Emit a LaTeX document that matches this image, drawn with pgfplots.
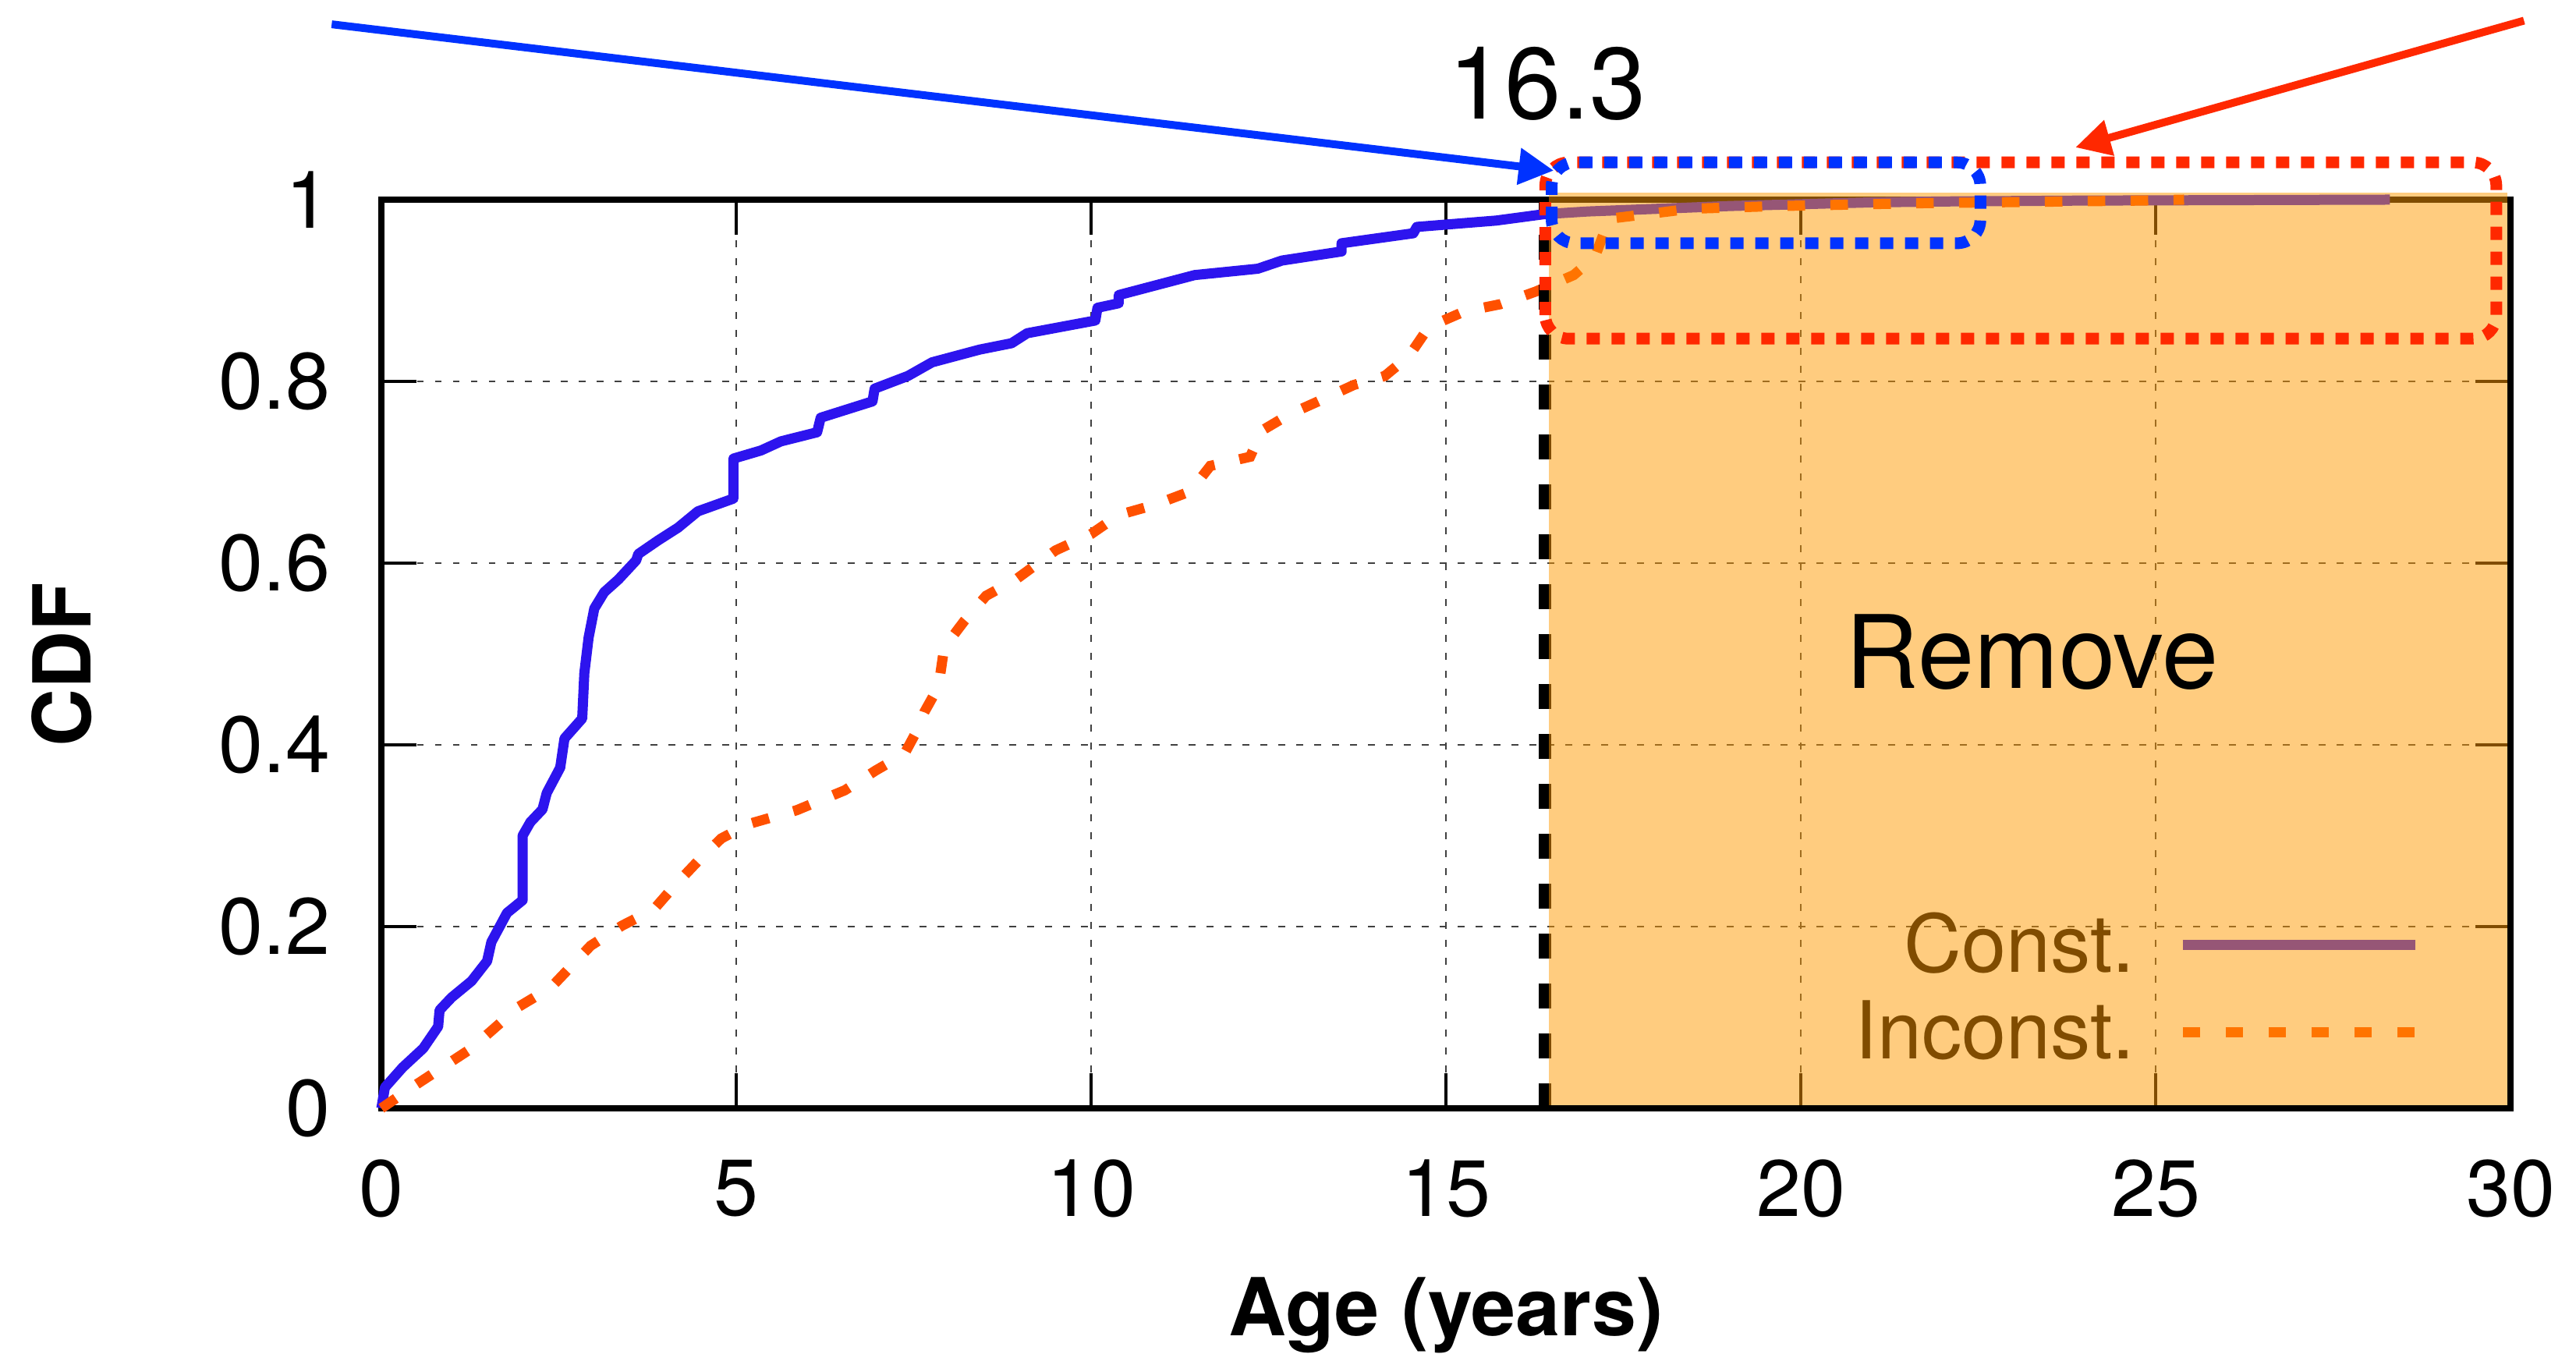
\documentclass[border=0pt]{standalone}
\usepackage{fontspec}
\setmainfont{TeX Gyre Heros}
\usepackage{pgfplots}
\pgfplotsset{compat=1.18}
\usetikzlibrary{arrows.meta}
\definecolor{cblue}{RGB}{45,20,238}
\definecolor{corange}{RGB}{255,80,0}
\definecolor{cfill}{RGB}{255,153,0}
\definecolor{aBlue}{RGB}{0,50,255}
\definecolor{aRed}{RGB}{255,40,0}

\begin{document}
\begin{tikzpicture}
\useasboundingbox (-97.8pt,-63pt) rectangle (562.8pt,284.2pt);
\begin{axis}[
  at={(0pt,0pt)}, anchor=origin,
  scale only axis, width=546pt, height=233pt,
  xmin=0, xmax=30, ymin=0, ymax=1,
  xtick={0,5,10,15,20,25,30},
  ytick={0,0.2,0.4,0.6,0.8,1},
  clip=false,
  axis line style={line width=1.6pt, black},
  tick style={line width=0.7pt, black},
  major tick length=9pt,
  tick align=inside,
  grid=major,
  major grid style={black!75, line width=0.4pt, dash pattern=on 1.7pt off 2.9pt},
  /pgf/number format/assume math mode=true,
  ticklabel style={font=\fontsize{20.5}{24}\selectfont, inner sep=0pt},
  xticklabel style={yshift=-13pt},
  yticklabel style={xshift=-13pt},
  xlabel={Age (years)},
  ylabel={CDF},
  label style={font=\fontsize{20.5}{24}\selectfont\bfseries},
  xlabel style={at={(axis description cs:0.5,-0.2506)}, anchor=base},
  ylabel style={at={(axis description cs:-0.1366,0.488)}, anchor=base},
  legend style={draw=none, fill=none, inner sep=0pt, font=\fontsize{20.5}{24}\selectfont,
    at={(axis description cs:0.958,0.132)}, anchor=east, row sep=5.8pt, column sep=11pt,
    nodes={inner sep=0pt}},
  legend plot pos=right, legend cell align=right,
  legend image code/.code={\draw[#1] (0pt,0pt) -- (59.6pt,0pt);},
]
\addplot[cblue, line width=2.6pt, line join=round] coordinates {
(0,0) (0.05,0.023) (0.3,0.045) (0.59,0.066) (0.80,0.090) (0.82,0.108) (0.99,0.122)
(1.27,0.140) (1.49,0.162) (1.55,0.183) (1.77,0.215) (1.99,0.229) (1.99,0.300)
(2.10,0.315) (2.27,0.329) (2.33,0.347) (2.52,0.375) (2.58,0.407) (2.83,0.429)
(2.86,0.479) (2.92,0.518) (3.0,0.55) (3.14,0.568) (3.34,0.582) (3.59,0.603)
(3.62,0.610) (3.90,0.625) (4.18,0.639) (4.46,0.657) (4.96,0.671) (4.96,0.715)
(5.35,0.724) (5.63,0.734) (6.14,0.744) (6.19,0.760) (6.92,0.778) (6.95,0.792)
(7.42,0.806) (7.76,0.821) (8.43,0.835) (8.88,0.842) (9.1,0.853) (10.06,0.867)
(10.09,0.881) (10.39,0.886) (10.39,0.895) (11.46,0.917) (12.35,0.924) (12.69,0.933)
(13.53,0.943) (13.53,0.952) (14.54,0.963) (14.59,0.970) (15.71,0.977) (16.38,0.984)
(17,0.987) (18,0.990) (19,0.993) (20,0.995) (21,0.997) (22,0.998) (24,0.999) (28.3,1.0)
};
\addlegendentry{Const.}
\addplot[corange, line width=2.6pt, dash pattern=on 4.5pt off 6.5pt] coordinates {
(0,0) (0.43,0.023) (1.27,0.066) (1.94,0.112) (2.39,0.133) (2.95,0.179) (3.39,0.201)
(3.84,0.219) (4.12,0.244) (4.46,0.272) (4.79,0.297) (5.18,0.313) (5.85,0.328)
(6.53,0.350) (6.97,0.372) (7.37,0.390) (7.59,0.422) (7.65,0.436) (7.85,0.464)
(7.93,0.507) (8.21,0.536) (8.52,0.564) (8.94,0.582) (9.50,0.614) (10.0,0.632)
(10.39,0.653) (10.89,0.664) (11.40,0.679) (11.68,0.707) (12.24,0.717) (12.41,0.746)
(12.80,0.764) (13.20,0.778) (13.70,0.796) (14.14,0.806) (14.48,0.828) (14.76,0.860)
(15.26,0.877) (15.77,0.885) (16.27,0.899) (16.8,0.917) (17.1,0.937) (17.3,0.979)
(18.45,0.990) (19.7,0.993) (21.6,0.996) (24.8,0.999) (25.4,1.0)
};
\addlegendentry{Inconst.}
\coordinate (VL0) at (axis cs:16.4,0);
\coordinate (VL1) at (axis cs:16.4,1);
\coordinate (F0) at (axis cs:16.45,0);
\coordinate (F1) at (axis cs:30,1);
\coordinate (RR0) at (axis cs:16.4,0.847);
\coordinate (RR1) at (axis cs:29.8,1.041);
\coordinate (BR0) at (axis cs:16.49,0.952);
\coordinate (BR1) at (axis cs:22.53,1.041);
\coordinate (BA0) at (axis cs:-0.70,1.193);
\coordinate (BA1) at (axis cs:16.52,1.032);
\coordinate (RA0) at (axis cs:30.19,1.197);
\coordinate (RA1) at (axis cs:23.87,1.0575);
\coordinate (TXT) at (axis cs:16.43,1.089);
\coordinate (REM) at (axis cs:23.26,0.462);
\end{axis}
\draw[black, line width=3.2pt, dash pattern=on 6.4pt off 6.4pt] (VL0) -- (VL1);
\fill[cfill, opacity=0.5] ([yshift=0.8pt]F0) rectangle ([xshift=-0.8pt,yshift=1.8pt]F1);
\draw[aRed, line width=3pt, dash pattern=on 3.4pt off 3pt, rounded corners=6pt] (RR0) rectangle (RR1);
\draw[aBlue, line width=3pt, dash pattern=on 3.4pt off 3pt, rounded corners=6pt] (BR0) rectangle (BR1);
\draw[aBlue, line width=2pt, -{Triangle[length=9pt,width=9pt]}] (BA0) -- (BA1);
\draw[aRed, line width=2pt, -{Triangle[length=9pt,width=9pt]}] (RA0) -- (RA1);
\node[font=\fontsize{26}{30}\selectfont, anchor=base, inner sep=0pt] at (TXT) {16.3};
\node[font=\fontsize{26}{30}\selectfont, anchor=base, inner sep=0pt] at (REM) {Remove};
\end{tikzpicture}
\end{document}
